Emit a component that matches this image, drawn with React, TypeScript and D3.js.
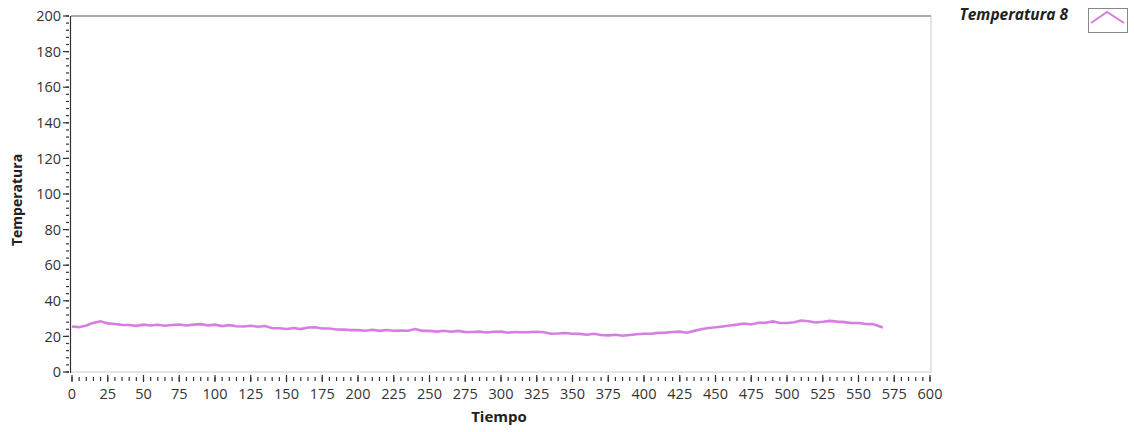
import React from "react";
import * as d3 from "d3";

const seriesName = "Temperatura 8";
const tiempo = [0,5,10,15,20,25,30,35,40,45,50,55,60,65,70,75,80,85,90,95,100,105,110,115,120,125,130,135,140,145,150,155,160,165,170,175,180,185,190,195,200,205,210,215,220,225,230,235,240,245,250,255,260,265,270,275,280,285,290,295,300,305,310,315,320,325,330,335,340,345,350,355,360,365,370,375,380,385,390,395,400,405,410,415,420,425,430,435,440,445,450,455,460,465,470,475,480,485,490,495,500,505,510,515,520,525,530,535,540,545,550,555,560,565,567];
const temperatura = [25.6,25.2,26.1,27.6,28.5,27.3,27.0,26.5,26.4,25.9,26.6,26.1,26.5,26.0,26.4,26.7,26.1,26.6,26.9,26.2,26.6,25.8,26.3,25.7,25.6,26.0,25.4,25.8,24.6,24.6,24.2,24.7,24.1,25.0,25.1,24.4,24.4,23.9,23.8,23.5,23.5,23.2,23.7,23.1,23.6,23.2,23.3,23.2,24.1,23.1,23.1,22.7,23.2,22.6,23.1,22.4,22.5,22.7,22.2,22.6,22.7,22.1,22.5,22.3,22.4,22.6,22.3,21.5,21.6,21.9,21.5,21.4,20.9,21.5,20.8,20.6,20.9,20.4,20.8,21.2,21.5,21.5,22.0,22.1,22.5,22.7,22.1,23.1,24.0,24.7,25.1,25.6,26.1,26.6,27.2,26.7,27.7,27.7,28.4,27.5,27.5,27.9,28.9,28.5,27.8,28.2,28.7,28.3,28.0,27.5,27.5,27.0,26.9,25.6,25.0];
const xMajorTicks = d3.range(0, 601, 25);
const xMinorTicks = d3.range(0, 601, 5);
const yMajorTicks = d3.range(0, 201, 20);
const yMinorTicks = d3.range(0, 201, 4);

const W = 1134, H = 432;
const L = 71, R = 930, T = 16, B = 372;
const lineColor = "#d77ee2";
const font = "'Open Sans', 'DejaVu Sans', sans-serif";

export default function App() {
  const x = d3.scaleLinear().domain([0, 600]).range([L + 1, R]);
  const y = d3.scaleLinear().domain([0, 200]).range([B, T]);
  const pts = tiempo.map((t, i) => [t, temperatura[i]] as [number, number]);
  const line = d3.line<[number, number]>().x(d => x(d[0])).y(d => y(d[1]));
  return (
    <svg width={W} height={H} style={{ position: "absolute", left: 0, top: 0, background: "#fff" }}>
      <rect x={L} y={T} width={R - L} height={B - T} fill="#fff" />
      <line x1={L} y1={T} x2={R + 1} y2={T} stroke="#555" strokeWidth={1} />
      <line x1={R + 1} y1={T} x2={R + 1} y2={B} stroke="#ccc" strokeWidth={1} />
      <line x1={L} y1={B} x2={R + 1} y2={B} stroke="#ccc" strokeWidth={1} />
      <line x1={L - 0.5} y1={T} x2={L - 0.5} y2={B + 1} stroke="#333" strokeWidth={1.2} />
      <path d={line(pts) || ""} fill="none" stroke={lineColor} strokeWidth={2.6} strokeLinejoin="miter" />
      {/* y axis ticks */}
      {yMinorTicks.map(v => (
        <line key={"ym" + v} x1={L - 5} x2={L - 2} y1={y(v)} y2={y(v)} stroke="#333" strokeWidth={1.2} />
      ))}
      {yMajorTicks.map(v => (
        <g key={"yM" + v}>
          <line x1={L - 8} x2={L - 2} y1={y(v)} y2={y(v)} stroke="#333" strokeWidth={1.2} />
          <text x={L - 10} y={y(v)} dy="0.36em" textAnchor="end" fontFamily={font} fontSize={14.5} fill="#333">{v}</text>
        </g>
      ))}
      {/* x axis ticks */}
      {xMinorTicks.map(v => (
        <line key={"xm" + v} x1={x(v)} x2={x(v)} y1={B + 5} y2={B + 9} stroke="#333" strokeWidth={1.2} />
      ))}
      {xMajorTicks.map(v => (
        <g key={"xM" + v}>
          <line x1={x(v)} x2={x(v)} y1={B + 3} y2={B + 10} stroke="#333" strokeWidth={1.2} />
          <text x={x(v)} y={B + 22} dy="0.36em" textAnchor="middle" fontFamily={font} fontSize={14.5} fill="#333">{v}</text>
        </g>
      ))}
      <text x={499} y={422} textAnchor="middle" fontFamily={font} fontSize={15} fontWeight="bold" fill="#222">Tiempo</text>
      <text transform={`translate(22, ${(T + B) / 2 + 6}) rotate(-90)`} textAnchor="middle" fontFamily={font} fontSize={14} fontWeight="bold" fill="#222">Temperatura</text>
      {/* legend */}
      <text x={1068} y={20} textAnchor="end" fontFamily={font} fontSize={15.5} fontWeight="bold" fontStyle="italic" fill="#222">{seriesName}</text>
      <rect x={1088.5} y={8.5} width={39} height={24} fill="#fff" stroke="#888" strokeWidth={1} />
      <polyline points="1091,23 1107,12 1124,23" fill="none" stroke={lineColor} strokeWidth={2} />
    </svg>
  );
}
